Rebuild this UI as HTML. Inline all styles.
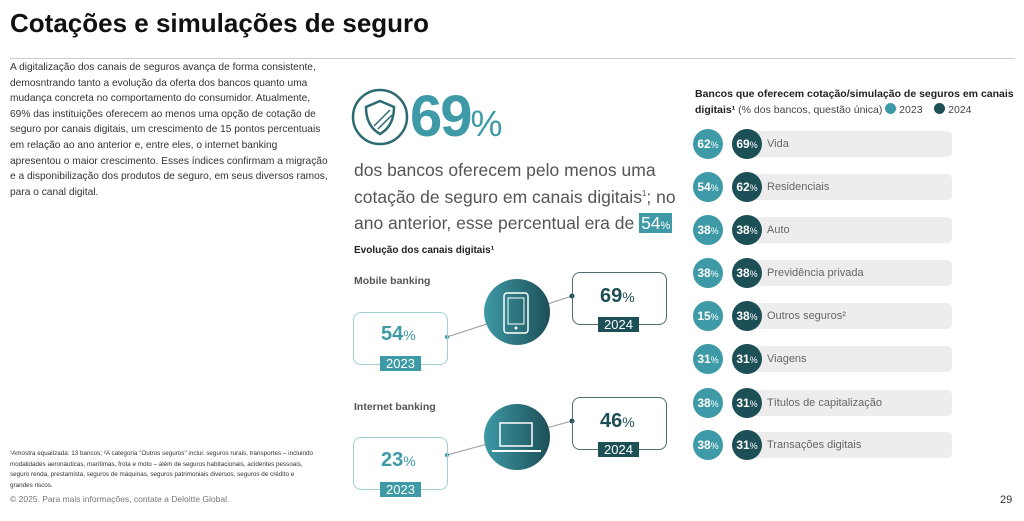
<!DOCTYPE html>
<html><head><meta charset="utf-8"><style>
body{margin:0;width:1024px;height:521px;background:#fff;font-family:"Liberation Sans",sans-serif;position:relative;overflow:hidden;color:#222}
.a{position:absolute;white-space:nowrap}
.t{color:#3d9aa6}.d{color:#1d4f57}
.box{position:absolute;border:1.5px solid #9fcfd4;border-radius:8px}
.box2{position:absolute;border:1.5px solid #4f6c72;border-radius:8px}
.lab{position:absolute;color:#fff;font-size:13px;text-align:center;line-height:15px}
.c{position:absolute;width:30px;height:30px;border-radius:50%;color:#fff;font-weight:bold;font-size:12px;line-height:30px;text-align:center}
.c small{font-size:9px;font-weight:normal}
.bar{position:absolute;left:745px;width:207px;height:26px;background:#ededed;border-radius:5px;font-size:11px;color:#666;line-height:26px;padding-left:22px;box-sizing:border-box}
</style></head><body>
<div class="a" style="left:10px;top:8px;font-size:26px;font-weight:bold;color:#111">Cotações e simulações de seguro</div>
<div class="a" style="left:10px;top:58px;width:1005px;height:1px;background:#ccc"></div>
<div class="a" style="left:10px;top:60px;font-size:10.2px;line-height:15.6px;color:#333">A digitalização dos canais de seguros avança de forma consistente,<br>demosntrando tanto a evolução da oferta dos bancos quanto uma<br>mudança concreta no comportamento do consumidor. Atualmente,<br>69% das instituições oferecem ao menos uma opção de cotação de<br>seguro por canais digitais, um crescimento de 15 pontos percentuais<br>em relação ao ano anterior e, entre eles, o internet banking<br>apresentou o maior crescimento. Esses índices confirmam a migração<br>e a disponibilização dos produtos de seguro, em seus diversos ramos,<br>para o canal digital.</div>
<div class="a" style="left:10px;top:449px;font-size:6.3px;line-height:10.6px;color:#333">¹Amostra equalizada: 13 bancos; ²A categoria "Outros seguros" inclui: seguros rurais, transportes – incluindo<br>modalidades aeronáuticas, marítimas, frota e moto – além de seguros habitacionais, acidentes pessoais,<br>seguro renda, prestamista, seguros de máquinas, seguros patrimoniais diversos, seguros de crédito e<br>grandes riscos.</div>
<div class="a" style="left:10px;top:494px;font-size:8.5px;color:#777">© 2025. Para mais informações, contate a Deloitte Global.</div>
<div class="a" style="left:1000px;top:494px;font-size:11px;color:#333">29</div>

<svg class="a" style="left:350px;top:88px" width="60" height="60" viewBox="0 0 60 60">
<circle cx="30" cy="29" r="27" fill="none" stroke="#2d6b72" stroke-width="2.5"/>
<path d="M30 13 L44 19 Q44 38 30 46 Q16 38 16 19 Z" fill="none" stroke="#2d6b72" stroke-width="2.5"/>
<path d="M24 38 L40 22 M28 41 L42 27" stroke="#2d6b72" stroke-width="1.5"/></svg>
<div class="a t" style="left:410px;top:83px;font-size:58px;font-weight:bold;letter-spacing:-2px">69<span style="font-size:36px;font-weight:normal;letter-spacing:0">%</span></div>
<div class="a" style="left:354px;top:157px;font-size:17.5px;line-height:26.5px;color:#555">dos bancos oferecem pelo menos uma<br>cotação de seguro em canais digitais<sup style="font-size:8px;line-height:0">1</sup>; no<br>ano anterior, esse percentual era de <span style="background:#3d9aa6;color:#fff;padding:0 2px">54<span style="font-size:11px">%</span></span></div>
<div class="a" style="left:354px;top:245px;font-size:10px;font-weight:bold">Evolução dos canais digitais¹</div>

<svg class="a" style="left:340px;top:260px" width="340" height="240">
<defs><linearGradient id="g" x1="0" x2="1"><stop offset="0" stop-color="#3d9aa6"/><stop offset="1" stop-color="#1d4f57"/></linearGradient></defs>
<line x1="107" y1="77" x2="232" y2="36" stroke="#999"/><circle cx="107" cy="77" r="2" fill="#3d9aa6"/><circle cx="232" cy="36" r="2.5" fill="#1d4f57"/>
<line x1="107" y1="195" x2="232" y2="161" stroke="#999"/><circle cx="107" cy="195" r="2" fill="#3d9aa6"/><circle cx="232" cy="161" r="2.5" fill="#1d4f57"/>
<circle cx="177" cy="52" r="33" fill="url(#g)"/>
<rect x="164" y="33" width="24" height="40" rx="3" fill="none" stroke="#fff" stroke-width="1.5"/><rect x="168" y="38" width="16" height="26" fill="none" stroke="#fff"/><circle cx="176" cy="68" r="1.5" fill="#fff"/>
<circle cx="177" cy="177" r="33" fill="url(#g)"/>
<rect x="160" y="163" width="32" height="23" fill="none" stroke="#fff" stroke-width="1.5"/><line x1="152" y1="191" x2="201" y2="191" stroke="#fff" stroke-width="2"/>
</svg>
<div class="a" style="left:354px;top:275px;font-size:10.5px;font-weight:bold;color:#555">Mobile banking</div>
<div class="a" style="left:354px;top:401px;font-size:10.5px;font-weight:bold;color:#555">Internet banking</div>

<div class="box" style="left:353px;top:312px;width:93px;height:51px"></div>
<div class="a t" style="left:381px;top:323px;font-size:20px;font-weight:bold">54<span style="font-size:14px;font-weight:normal">%</span></div>
<div class="lab" style="left:380px;top:356px;width:41px;background:#3d9aa6">2023</div>
<div class="box2" style="left:572px;top:272px;width:93px;height:51px"></div>
<div class="a d" style="left:600px;top:285px;font-size:20px;font-weight:bold">69<span style="font-size:14px;font-weight:normal">%</span></div>
<div class="lab" style="left:598px;top:317px;width:41px;background:#1d4f57">2024</div>

<div class="box" style="left:353px;top:437px;width:93px;height:51px"></div>
<div class="a t" style="left:381px;top:449px;font-size:20px;font-weight:bold">23<span style="font-size:14px;font-weight:normal">%</span></div>
<div class="lab" style="left:380px;top:482px;width:41px;background:#3d9aa6">2023</div>
<div class="box2" style="left:572px;top:397px;width:93px;height:51px"></div>
<div class="a d" style="left:600px;top:410px;font-size:20px;font-weight:bold">46<span style="font-size:14px;font-weight:normal">%</span></div>
<div class="lab" style="left:598px;top:442px;width:41px;background:#1d4f57">2024</div>

<div class="a" style="left:695px;top:86px;font-size:10.5px;line-height:16px;font-weight:bold;color:#222">Bancos que oferecem cotação/simulação de seguros em canais<br>digitais¹ <span style="font-weight:normal;color:#444">(% dos bancos, questão única) <span style="display:inline-block;width:11px;height:11px;border-radius:50%;background:#3d9aa6;vertical-align:-1px"></span> 2023 &nbsp;&nbsp; <span style="display:inline-block;width:11px;height:11px;border-radius:50%;background:#1d4f57;vertical-align:-1px"></span> 2024</span></div>

<div class="bar" style="top:131px">Vida</div>
<div class="bar" style="top:174px">Residenciais</div>
<div class="bar" style="top:217px">Auto</div>
<div class="bar" style="top:260px">Previdência privada</div>
<div class="bar" style="top:303px">Outros seguros²</div>
<div class="bar" style="top:346px">Viagens</div>
<div class="bar" style="top:390px">Títulos de capitalização</div>
<div class="bar" style="top:432px">Transações digitais</div>

<div class="c" style="left:693px;top:129px;background:#3d9aa6">62<small>%</small></div><div class="c" style="left:732px;top:129px;background:#1d4f57">69<small>%</small></div>
<div class="c" style="left:693px;top:172px;background:#3d9aa6">54<small>%</small></div><div class="c" style="left:732px;top:172px;background:#1d4f57">62<small>%</small></div>
<div class="c" style="left:693px;top:215px;background:#3d9aa6">38<small>%</small></div><div class="c" style="left:732px;top:215px;background:#1d4f57">38<small>%</small></div>
<div class="c" style="left:693px;top:258px;background:#3d9aa6">38<small>%</small></div><div class="c" style="left:732px;top:258px;background:#1d4f57">38<small>%</small></div>
<div class="c" style="left:693px;top:301px;background:#3d9aa6">15<small>%</small></div><div class="c" style="left:732px;top:301px;background:#1d4f57">38<small>%</small></div>
<div class="c" style="left:693px;top:344px;background:#3d9aa6">31<small>%</small></div><div class="c" style="left:732px;top:344px;background:#1d4f57">31<small>%</small></div>
<div class="c" style="left:693px;top:388px;background:#3d9aa6">38<small>%</small></div><div class="c" style="left:732px;top:388px;background:#1d4f57">31<small>%</small></div>
<div class="c" style="left:693px;top:430px;background:#3d9aa6">38<small>%</small></div><div class="c" style="left:732px;top:430px;background:#1d4f57">31<small>%</small></div>
</body></html>
